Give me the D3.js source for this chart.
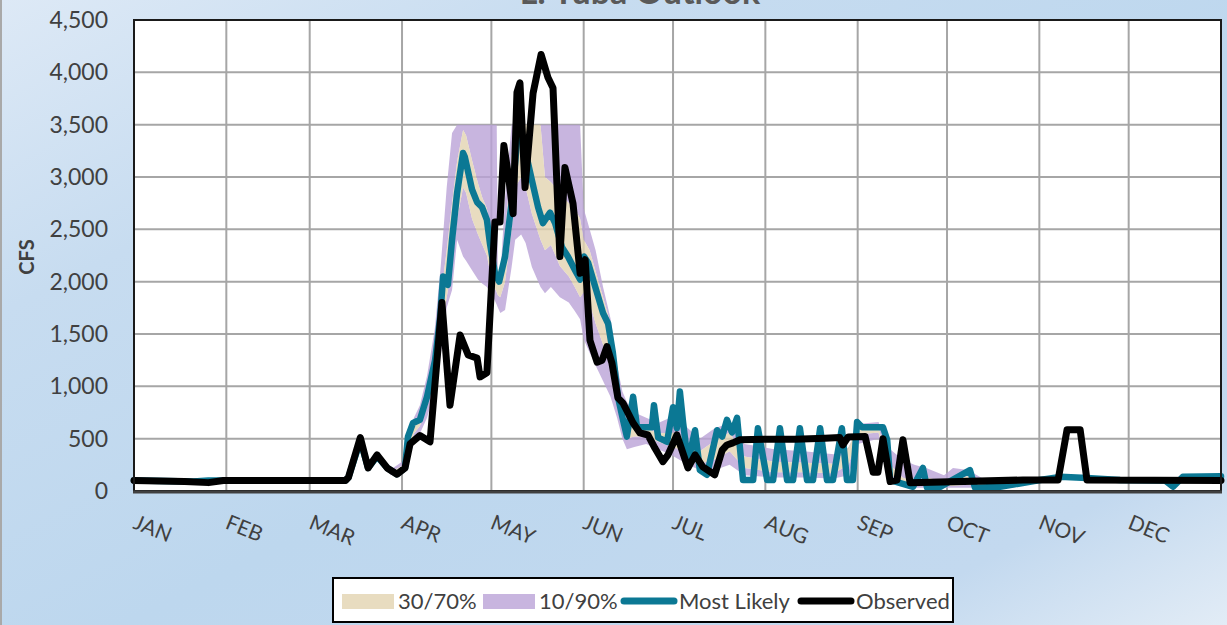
<!DOCTYPE html>
<html>
<head>
<meta charset="utf-8">
<script src="https://cdn.jsdelivr.net/npm/d3@7"></script>
<style>
  html, body { margin: 0; padding: 0; }
  svg { display: block; }
</style>
</head>
<body>
<svg id="chart" width="1227" height="625"></svg>
<script>
// ---- data (day of year, CFS) ----
const monthLabels = ["JAN","FEB","MAR","APR","MAY","JUN","JUL","AUG","SEP","OCT","NOV","DEC"];
const monthStarts = [0,31,59,90,120,151,181,212,243,273,304,334,365];
const yTicks = [0,500,1000,1500,2000,2500,3000,3500,4000,4500];

const obsDays = [0,17,25,30,71,72,76,78.6,81.6,85,88.3,91,92.7,96,99.4,103.4,106.1,109.5,112.2,115.2,116.2,118.5,
  121.2,122.9,124.2,125.6,127.3,128.6,129.6,131.3,134,136.7,139,140.7,143,144.7,147.4,149.8,151.5,153.1,155.5,157.2,
  158.8,160.5,162.5,164.2,167.6,169.9,172.6,174.9,177.6,179.3,182.3,184,186,188.4,191,195,197.5,199.1,201.1,203.5,
  212,222,232,237,238,239.8,245.5,248.2,249.8,251.5,253.9,256.2,258.2,260.6,298.5,310.3,313.3,317.7,320,365];
const obsCfs = [100,90,80,100,100,130,510,220,345,220,160,220,450,530,470,1800,820,1490,1300,1270,1090,1130,
  2570,2570,3300,3040,2650,3810,3900,2900,3800,4170,3950,3850,2240,3090,2750,2080,2210,1440,1230,1250,
  1380,1220,890,840,650,555,535,410,280,345,535,390,220,345,230,155,390,440,460,490,
  495,495,505,510,440,515,520,180,180,500,90,105,490,80,105,105,585,585,105,100];

const mlDays = [0,20,25,71,72,76,78.6,81.6,85,88.3,91,92,93.7,96,98.4,101.1,102.8,103.8,105.4,106.8,108.5,110.5,111.1,113.5,115.2,116.9,
  118.5,119.5,121.2,122.6,124.6,126.9,128.6,129.6,131.3,133.6,135.7,137.3,139.7,141.4,143.7,145.7,148.1,149.8,151.1,
  152.5,155.5,157.5,159.2,160.8,162.5,164.2,165.5,167.6,168.9,173.9,174.6,176,179,181,182.3,183.3,184.4,186,188.4,
  190,192.4,195.8,197.5,199.1,200.8,202.5,204.5,207.9,209.5,212.6,214.6,216.9,219.3,221.3,223.6,226,228,230.4,232.7,
  234.7,237.7,239.4,241.4,242.8,244.5,251.5,252.9,253.9,256.2,261.6,264.9,266.3,270.7,280.7,282.4,290.8,304.2,311,
  320,331.1,346.2,348.9,352.2,365];
const mlCfs = [100,90,100,100,130,480,220,330,220,160,220,520,650,680,900,1250,1660,2050,1970,2400,2850,3230,3190,2880,2760,2710,
  2590,2370,2080,2000,2240,2780,3350,3480,3260,2970,2710,2560,2660,2560,2330,2240,2110,2020,2240,
  2180,1890,1700,1600,1320,900,680,520,900,610,610,820,510,470,800,600,950,650,270,580,
  200,155,580,520,680,560,700,105,105,600,105,105,600,105,105,600,105,105,600,105,
  105,600,105,105,660,610,610,490,105,85,40,220,30,40,200,30,40,105,135,
  125,105,100,40,135,140];

const bandDays = [86,90,92,94,96,98.4,101,103,105,106.8,108.5,110.5,111.5,113.5,115.5,117,118.5,119.5,121,121.8,
  122.2,123,124.6,126.8,128,130,131.5,133.6,136.5,138,140,143,146,148,149.8,151,153,155,157.5,160,162.2,164,165.5,
  168,172,176,180,183,186,190,195,200,205,215,225,235,240,243,250,253,258,262,266,272,275,280,285,295,305];
const p90 = [200,280,560,700,820,1100,1550,2150,2900,3420,3500,3500,3500,3500,3500,3500,3500,3500,3500,3500,
  2000,2050,2800,3500,3500,3500,3500,3500,3500,3500,3500,3500,3500,3500,3500,2700,2500,2300,1950,1650,1200,950,850,
  750,700,650,700,700,600,500,600,650,450,400,380,350,400,640,660,420,300,250,220,150,220,200,120,110,130];
const p70 = [180,240,500,620,720,950,1350,1850,2300,2750,3150,3450,3400,3160,2940,2800,2700,2520,2250,2150,
  2100,2100,2450,3200,3450,3500,3500,3500,3500,3000,2950,2850,2750,2700,2600,2400,2300,2100,1850,1600,1100,800,650,
  620,600,550,560,550,420,380,480,560,330,280,270,260,420,600,610,280,130,90,130,90,110,140,80,90,120];
const p30 = [160,200,380,550,620,800,1100,1500,1850,2150,2600,2900,2850,2600,2450,2350,2250,2100,1950,1900,
  1870,1850,2000,2500,2900,3000,2900,2650,2400,2300,2350,2150,2050,1950,1850,1900,1800,1600,1400,1200,850,600,500,
  520,520,470,430,400,300,260,300,380,220,180,180,170,250,540,560,180,80,50,50,50,50,60,50,50,105];
const p10 = [150,180,300,450,550,700,950,1300,1750,1920,2400,2240,2200,2110,2020,1980,1950,1900,1830,1780,
  1750,1700,1730,2140,2400,2450,2370,2140,1950,1890,1950,1850,1800,1720,1640,1450,1320,1200,1050,900,700,500,400,
  420,450,400,350,300,250,200,200,250,150,130,130,120,150,450,500,100,50,30,30,30,30,30,30,30,100];

const legendItems = [
  {label: "30/70%", kind: "box", color: "#e8dcc0"},
  {label: "10/90%", kind: "box", color: "#c8b5df"},
  {label: "Most Likely", kind: "line", color: "#0b7894"},
  {label: "Observed", kind: "line", color: "#000000"}
];

// ---- layout ----
const W = 1227, H = 625;
const plot = {left: 134, right: 1221, top: 20, bottom: 491};
const FONT = "Lato, 'Open Sans', sans-serif";
const TXT = "#404040";

const svg = d3.select("#chart");
const defs = svg.append("defs");
const bg = defs.append("linearGradient").attr("id", "bgGrad")
  .attr("x1", 0).attr("y1", 0).attr("x2", 1).attr("y2", 1);
[[0, "#dde9f6"], [0.25, "#c7dcf0"], [0.55, "#bdd7ee"], [0.85, "#c3d9ef"], [1, "#e2ecf6"]]
  .forEach(([o, c]) => bg.append("stop").attr("offset", o).attr("stop-color", c));

svg.append("rect").attr("width", W).attr("height", H).attr("fill", "url(#bgGrad)");
svg.append("rect").attr("x", 0).attr("y", 0).attr("width", 2).attr("height", H).attr("fill", "#a9a9a9");

// title (sits mostly above the canvas)
svg.append("text").attr("x", 640).attr("y", 4)
  .attr("text-anchor", "middle").attr("font-family", FONT).attr("font-weight", 700)
  .attr("font-size", 34).attr("fill", "#595959").text("L. Yuba Outlook");

const x = d3.scaleLinear().domain([0, 365]).range([plot.left, plot.right]);
const y = d3.scaleLinear().domain([0, 4500]).range([plot.bottom, plot.top]);

svg.append("rect").attr("x", plot.left).attr("y", plot.top)
  .attr("width", plot.right - plot.left).attr("height", plot.bottom - plot.top).attr("fill", "#ffffff");

// gridlines
const grid = svg.append("g").attr("stroke", "#a6a6a6").attr("stroke-width", 2);
grid.selectAll("line.h").data(yTicks.slice(1)).join("line")
  .attr("x1", plot.left).attr("x2", plot.right).attr("y1", d => y(d)).attr("y2", d => y(d));
grid.selectAll("line.v").data(monthStarts.slice(1, -1)).join("line")
  .attr("y1", plot.top).attr("y2", plot.bottom).attr("x1", d => x(d)).attr("x2", d => x(d));

// forecast bands
const bandIdx = d3.range(bandDays.length);
const bandArea = (lo, hi) => d3.area()
  .x(i => x(bandDays[i])).y0(i => y(lo[i])).y1(i => y(hi[i]));
svg.append("path").datum(bandIdx).attr("d", bandArea(p10, p30)).attr("fill", "#baa2d7").attr("fill-opacity", 0.8);
svg.append("path").datum(bandIdx).attr("d", bandArea(p70, p90)).attr("fill", "#baa2d7").attr("fill-opacity", 0.8);
svg.append("path").datum(bandIdx).attr("d", bandArea(p30, p70)).attr("fill", "#e2d3b0").attr("fill-opacity", 0.8);

// most likely and observed lines
const line = (days, vals) => d3.line().x(i => x(days[i])).y(i => y(vals[i]))(d3.range(days.length));
svg.append("path").attr("d", line(mlDays, mlCfs)).attr("fill", "none")
  .attr("stroke", "#0b7894").attr("stroke-width", 6.5).attr("stroke-linejoin", "round").attr("stroke-linecap", "round");
svg.append("path").attr("d", line(obsDays, obsCfs)).attr("fill", "none")
  .attr("stroke", "#000000").attr("stroke-width", 7).attr("stroke-linejoin", "round").attr("stroke-linecap", "round");

// plot frame
svg.append("rect").attr("x", plot.left).attr("y", plot.top)
  .attr("width", plot.right - plot.left).attr("height", plot.bottom - plot.top)
  .attr("fill", "none").attr("stroke", "#1a1a1a").attr("stroke-width", 2);
svg.append("line").attr("x1", plot.left - 1).attr("x2", plot.right + 1)
  .attr("y1", plot.bottom + 1).attr("y2", plot.bottom + 1)
  .attr("stroke", "#404040").attr("stroke-width", 3);

// y axis labels
const yAxis = d3.axisLeft(y).tickValues(yTicks).tickSize(0).tickPadding(0).tickFormat(d3.format(","));
const ya = svg.append("g").attr("transform", `translate(${plot.left - 26},0)`).call(yAxis);
ya.select(".domain").remove();
ya.selectAll("text").attr("font-family", FONT).attr("font-size", 23).attr("fill", TXT);

svg.append("text").attr("transform", "translate(34,257) rotate(-90)")
  .attr("text-anchor", "middle").attr("font-family", FONT).attr("font-weight", 700)
  .attr("font-size", 20).attr("fill", TXT).text("CFS");

// month labels (tilted)
svg.append("g").selectAll("text").data(monthLabels).join("text")
  .attr("transform", (d, i) => `translate(${x(monthStarts[i]) - 2},${528}) rotate(22)`)
  .attr("font-family", FONT).attr("font-size", 21).attr("fill", TXT).text(d => d);

// legend
const lg = svg.append("g");
lg.append("rect").attr("x", 333).attr("y", 578).attr("width", 620).attr("height", 44)
  .attr("fill", "#ffffff").attr("stroke", "#000000").attr("stroke-width", 2);
const legX = [342, 483, 621, 798];
const legCy = 601;
legendItems.forEach((it, i) => {
  const x0 = legX[i];
  if (it.kind === "box") {
    lg.append("rect").attr("x", x0).attr("y", legCy - 7).attr("width", 52).attr("height", 15).attr("fill", it.color);
  } else {
    lg.append("line").attr("x1", x0 + 3).attr("x2", x0 + 53).attr("y1", legCy).attr("y2", legCy)
      .attr("stroke", it.color).attr("stroke-width", 7).attr("stroke-linecap", "round");
  }
  lg.append("text").attr("x", x0 + (it.kind === "box" ? 56 : 58)).attr("y", legCy + 8)
    .attr("font-family", FONT).attr("font-size", 22).attr("fill", TXT).text(it.label);
});
</script>
</body>
</html>
